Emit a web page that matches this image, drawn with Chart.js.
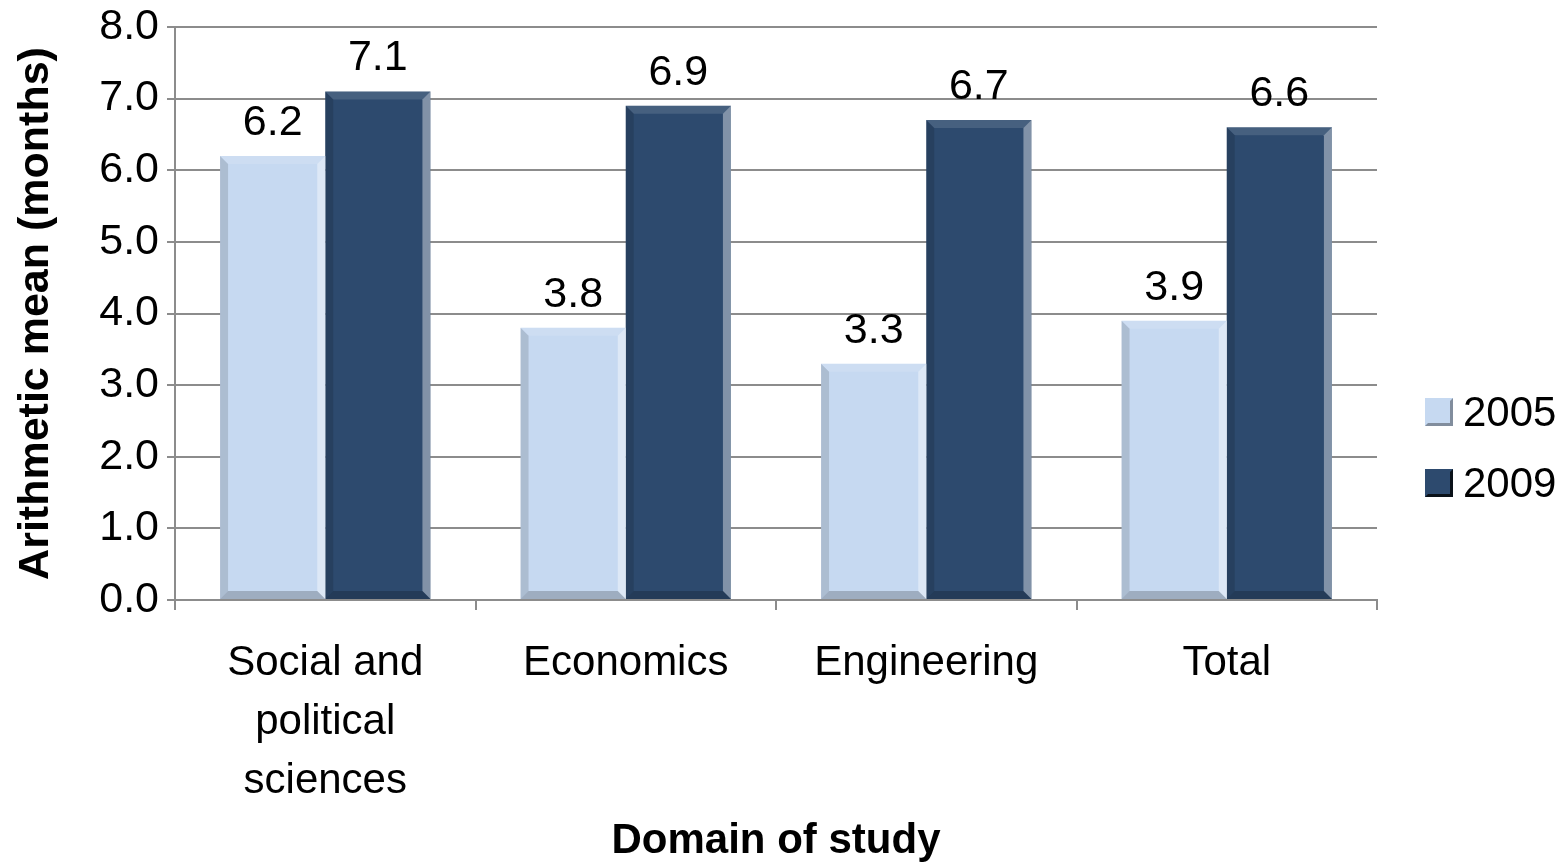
<!DOCTYPE html>
<html>
<head>
<meta charset="utf-8">
<script src="https://cdn.jsdelivr.net/npm/chart.js@4/dist/chart.umd.min.js"></script>
<style>
    body { margin: 0; background: #fff; }
    #wrap { position: relative; width: 1567px; height: 867px; }
    #legend { position: absolute; left: 1425px; top: 376px; font-family: "Liberation Sans", Arial, sans-serif; font-size: 42px; color: #000; }
    .item { display: flex; align-items: center; height: 71px; }
    .swatch { width: 28px; height: 28px; margin-right: 10px; box-sizing: border-box; }
</style>
</head>
<body>
<div id="wrap">
    <canvas id="chart" width="1567" height="867"></canvas>
    <div id="legend"></div>
</div>
<script>
// Chart data
const categories = [["Social and", "political", "sciences"], "Economics", "Engineering", "Total"];
const seriesNames = ["2005", "2009"];
const values2005 = [6.2, 3.8, 3.3, 3.9];
const values2009 = [7.1, 6.9, 6.7, 6.6];
const yTicks = [0, 1, 2, 3, 4, 5, 6, 7, 8];

const lightBlue = "#C6D9F1";
const darkBlue = "#2D4A6E";
const gridGray = "#8C8C8C";
const fontFamily = "'Liberation Sans', Arial, sans-serif";

// Draws the value above each bar
const valueLabels = {
    id: "valueLabels",
    afterDatasetsDraw(chart) {
        const ctx = chart.ctx;
        ctx.save();
        ctx.font = "43px " + fontFamily;
        ctx.fillStyle = "#000";
        ctx.textAlign = "center";
        ctx.textBaseline = "alphabetic";
        chart.data.datasets.forEach((ds, i) => {
            chart.getDatasetMeta(i).data.forEach((bar, j) => {
                ctx.fillText(ds.data[j].toFixed(1), bar.x, bar.y - 21);
            });
        });
        ctx.restore();
    }
};

// Bevel look on the bars, like the original Excel chart
const bevel = {
    id: "bevel",
    afterDatasetsDraw(chart) {
        const ctx = chart.ctx;
        const b = 8;
        ctx.save();
        chart.data.datasets.forEach((ds, i) => {
            chart.getDatasetMeta(i).data.forEach((bar) => {
                const l = bar.x - bar.width / 2, r = bar.x + bar.width / 2;
                const t = bar.y, btm = bar.base;
                const side = (pts, color) => {
                    ctx.beginPath();
                    ctx.moveTo(pts[0][0], pts[0][1]);
                    for (let k = 1; k < pts.length; k++) ctx.lineTo(pts[k][0], pts[k][1]);
                    ctx.closePath();
                    ctx.fillStyle = color;
                    ctx.fill();
                };
                // top
                side([[l, t], [r, t], [r - b, t + b], [l + b, t + b]], "rgba(255,255,255,0.12)");
                // left
                side([[l, t], [l + b, t + b], [l + b, btm - b], [l, btm]], "rgba(0,0,0,0.13)");
                // right
                side([[r, t], [r - b, t + b], [r - b, btm - b], [r, btm]], "rgba(255,255,255,0.4)");
                // bottom
                side([[l, btm], [l + b, btm - b], [r - b, btm - b], [r, btm]], "rgba(0,0,0,0.2)");
            });
        });
        ctx.restore();
    }
};

const ctx = document.getElementById("chart").getContext("2d");
const chart = new Chart(ctx, {
    type: "bar",
    data: {
        labels: categories,
        datasets: [
            { label: seriesNames[0], data: values2005, backgroundColor: lightBlue, borderWidth: 0 },
            { label: seriesNames[1], data: values2009, backgroundColor: darkBlue, borderWidth: 0 },
        ],
    },
    options: {
        responsive: false,
        animation: false,
        layout: { padding: { top: 0, right: 190, left: 0, bottom: 0 } },
        datasets: { bar: { categoryPercentage: 0.7, barPercentage: 1.0 } },
        plugins: {
            legend: { display: false },
            tooltip: { enabled: false },
        },
        scales: {
            x: {
                offset: true,
                afterFit(scale) { scale.height = 267; },
                grid: {
                    offset: true,
                    drawOnChartArea: false,
                    color: gridGray,
                    lineWidth: 2,
                    tickLength: 10,
                },
                border: { color: gridGray, width: 2 },
                ticks: {
                    color: "#000",
                    padding: 24,
                    font: { family: fontFamily, size: 42, lineHeight: 1.4 },
                    maxRotation: 0,
                },
                title: {
                    display: true,
                    text: "Domain of study",
                    color: "#000",
                    font: { family: fontFamily, size: 42, weight: "bold" },
                    padding: { top: 0, bottom: 0 },
                },
            },
            y: {
                min: 0,
                max: 8,
                afterFit(scale) {
                    scale.width = 175;
                    scale.paddingTop = 27;
                },
                afterBuildTicks(scale) { scale.ticks = yTicks.map(v => ({ value: v })); },
                grid: { color: gridGray, lineWidth: 2, tickLength: 8 },
                border: { color: gridGray, width: 2 },
                ticks: {
                    color: "#000",
                    padding: 8,
                    font: { family: fontFamily, size: 43 },
                    callback: (v) => Number(v).toFixed(1),
                },
                title: {
                    display: true,
                    text: "Arithmetic mean (months)",
                    color: "#000",
                    font: { family: fontFamily, size: 43, weight: "bold" },
                    padding: { top: 10, bottom: 0 },
                },
            },
        },
    },
    plugins: [bevel, valueLabels],
});

// Legend on the right
const legend = document.getElementById("legend");
chart.data.datasets.forEach((ds) => {
    const item = document.createElement("div");
    item.className = "item";
    const sw = document.createElement("span");
    sw.className = "swatch";
    sw.style.background = ds.backgroundColor;
    sw.style.border = "3px outset " + ds.backgroundColor;
    const txt = document.createElement("span");
    txt.textContent = ds.label;
    item.appendChild(sw);
    item.appendChild(txt);
    legend.appendChild(item);
});
</script>
</body>
</html>
